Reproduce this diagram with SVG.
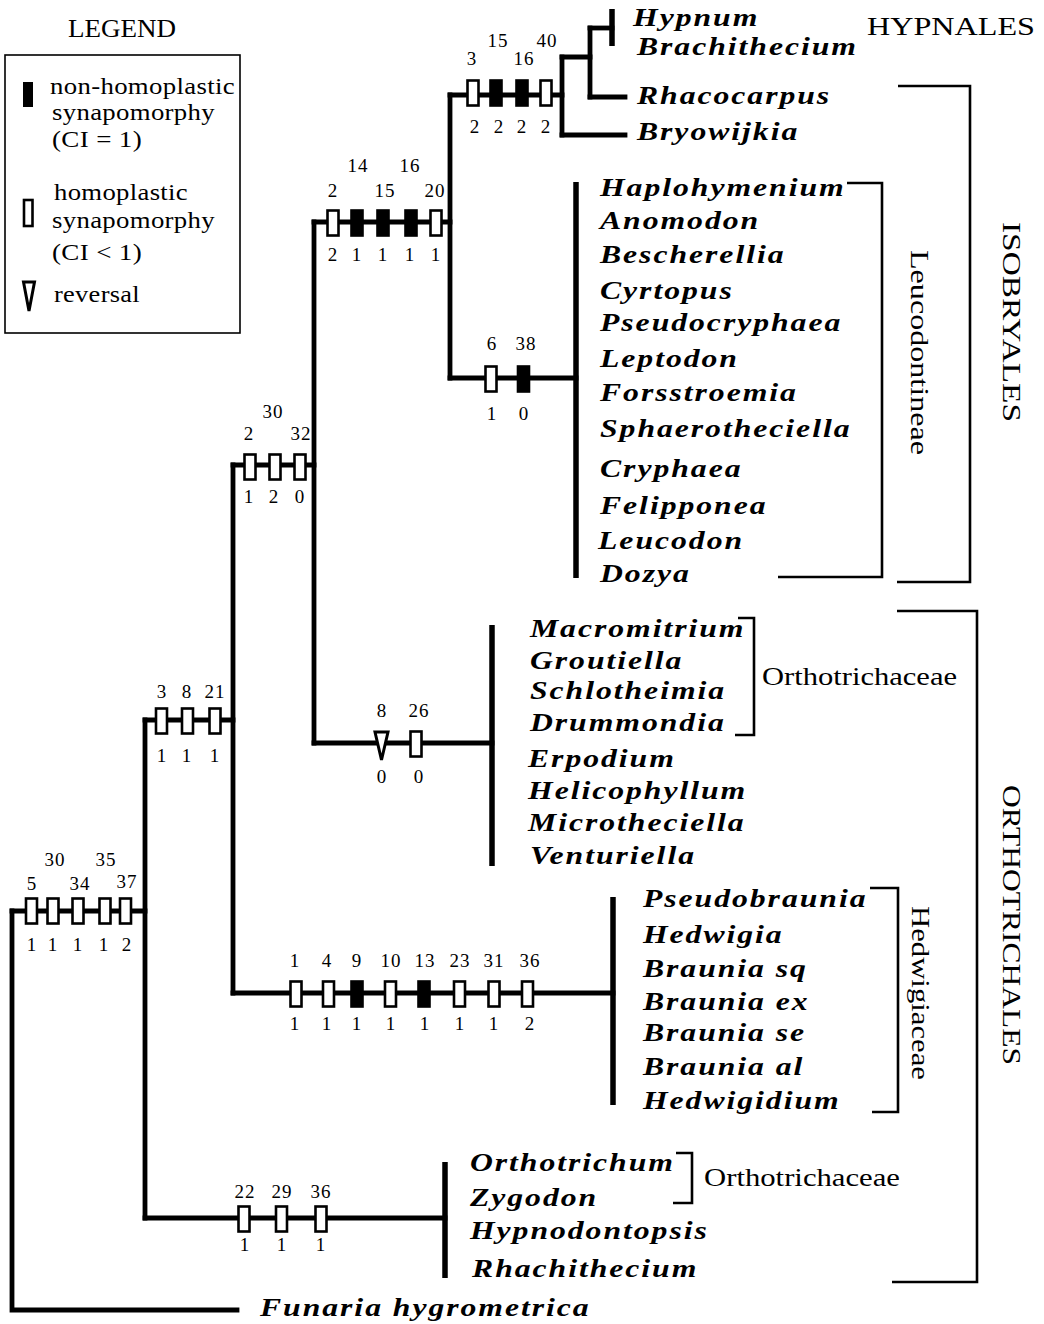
<svg xmlns="http://www.w3.org/2000/svg" width="1044" height="1324" viewBox="0 0 1044 1324">
<style>
.br{fill:none;stroke:#000;stroke-width:4.8;stroke-linecap:square}
.bar{fill:none;stroke:#000;stroke-width:5.5}
.bk{fill:none;stroke:#000;stroke-width:2.6}
.o{fill:#fff;stroke:#000;stroke-width:2.6}
.f{fill:#000;stroke:#000;stroke-width:2.6}
.tx{font-family:"Liberation Serif","Times New Roman",serif;font-style:italic;font-weight:bold;font-size:26px;letter-spacing:1.6px;fill:#000}
.lb{font-family:"Liberation Serif","Times New Roman",serif;font-size:26px;fill:#000}
.lg{font-family:"Liberation Serif","Times New Roman",serif;font-size:24px;letter-spacing:0.3px;fill:#000}
.n{font-family:"Liberation Serif","Times New Roman",serif;font-size:19px;letter-spacing:1px;text-anchor:middle;fill:#000}
</style>
<defs>
<rect id="ro" class="o" x="-5.5" y="-12.5" width="11" height="25"/>
<rect id="rf" class="f" x="-5.5" y="-12.5" width="11" height="25"/>
</defs>
<g id="connectors">
<path class="br" d="M12,911 V1310 H237"/>
<path class="br" d="M12,911 H145"/>
<path class="br" d="M145,720 V1218"/>
<path class="br" d="M145,720 H233"/>
<path class="br" d="M145,1218 H445"/>
<path class="br" d="M233,465 V993"/>
<path class="br" d="M233,465 H314"/>
<path class="br" d="M233,993 H613"/>
<path class="br" d="M314,222 V743"/>
<path class="br" d="M314,222 H450"/>
<path class="br" d="M314,743 H492"/>
<path class="br" d="M450,95 V378"/>
<path class="br" d="M450,95 H562"/>
<path class="br" d="M450,378 H576"/>
<path class="br" d="M562,57 V135"/>
<path class="br" d="M562,57 H590"/>
<path class="br" d="M562,135 H625"/>
<path class="br" d="M590,28 V97"/>
<path class="br" d="M590,97 H625"/>
<path class="br" d="M590,28 H612"/>
</g>
<g id="leaf-bars">
<path class="bar" d="M612,9 V46"/>
<path class="bar" d="M576,182 V578"/>
<path class="bar" d="M492,625 V866"/>
<path class="bar" d="M613,897 V1105"/>
<path class="bar" d="M445,1162 V1278"/>
</g>
<g id="brackets">
<path class="bk" d="M898,86 H970 V582 H897"/>
<path class="bk" d="M847,183 H882 V577 H778"/>
<path class="bk" d="M738,618 H754 V735 H735"/>
<path class="bk" d="M897,611 H977 V1282 H892"/>
<path class="bk" d="M870,888 H898 V1112 H872"/>
<path class="bk" d="M676,1153 H692 V1203 H673"/>
</g>
<g id="legend">
<text class="lb" x="68" y="37" font-size="24" textLength="108" lengthAdjust="spacingAndGlyphs">LEGEND</text>
<rect x="5" y="55" width="235" height="278" fill="none" stroke="#000" stroke-width="1.6"/>
<rect x="23" y="82" width="10" height="25" fill="#000"/>
<text class="lg" x="50" y="94" textLength="185" lengthAdjust="spacingAndGlyphs">non-homoplastic</text>
<text class="lg" x="52" y="120" textLength="163" lengthAdjust="spacingAndGlyphs">synapomorphy</text>
<text class="lg" x="52" y="147" textLength="90" lengthAdjust="spacingAndGlyphs">(CI = 1)</text>
<rect x="24" y="200" width="8.5" height="26" fill="#fff" stroke="#000" stroke-width="2.6"/>
<text class="lg" x="54" y="200" textLength="134" lengthAdjust="spacingAndGlyphs">homoplastic</text>
<text class="lg" x="52" y="228" textLength="163" lengthAdjust="spacingAndGlyphs">synapomorphy</text>
<text class="lg" x="52" y="260" textLength="90" lengthAdjust="spacingAndGlyphs">(CI &lt; 1)</text>
<path d="M23.5,282 H34.5 L29,311 Z" fill="#fff" stroke="#000" stroke-width="3" stroke-linejoin="miter"/>
<text class="lg" x="54" y="302" textLength="86" lengthAdjust="spacingAndGlyphs">reversal</text>
</g>
<g id="node-root">
<use href="#ro" x="31.5" y="911"/><use href="#ro" x="53" y="911"/><use href="#ro" x="78" y="911"/><use href="#ro" x="105" y="911"/><use href="#ro" x="125.5" y="911"/>
<text class="n" x="32" y="890">5</text><text class="n" x="55" y="866">30</text><text class="n" x="80" y="890">34</text><text class="n" x="106" y="866">35</text><text class="n" x="127" y="888">37</text>
<text class="n" x="32" y="951">1</text><text class="n" x="53" y="951">1</text><text class="n" x="78" y="951">1</text><text class="n" x="104" y="951">1</text><text class="n" x="127" y="951">2</text>
</g>
<g id="node-a">
<use href="#ro" x="161.5" y="721"/><use href="#ro" x="187.5" y="721"/><use href="#ro" x="215" y="721"/>
<text class="n" x="162" y="698">3</text><text class="n" x="187" y="698">8</text><text class="n" x="215" y="698">21</text>
<text class="n" x="162" y="762">1</text><text class="n" x="187" y="762">1</text><text class="n" x="215" y="762">1</text>
</g>
<g id="node-b">
<use href="#ro" x="244" y="1219"/><use href="#ro" x="281.5" y="1219"/><use href="#ro" x="321" y="1219"/>
<text class="n" x="245" y="1198">22</text><text class="n" x="282" y="1198">29</text><text class="n" x="321" y="1198">36</text>
<text class="n" x="245" y="1251">1</text><text class="n" x="282" y="1251">1</text><text class="n" x="321" y="1251">1</text>
</g>
<g id="node-c">
<use href="#ro" x="250" y="467"/><use href="#ro" x="275" y="467"/><use href="#ro" x="300" y="467"/>
<text class="n" x="249" y="440">2</text><text class="n" x="273" y="418">30</text><text class="n" x="301" y="440">32</text>
<text class="n" x="249" y="503">1</text><text class="n" x="274" y="503">2</text><text class="n" x="300" y="503">0</text>
</g>
<g id="node-d">
<use href="#ro" x="296" y="994"/><use href="#ro" x="328.5" y="994"/><use href="#rf" x="357" y="994"/><use href="#ro" x="390.5" y="994"/><use href="#rf" x="424" y="994"/><use href="#ro" x="459.5" y="994"/><use href="#ro" x="494" y="994"/><use href="#ro" x="527.5" y="994"/>
<text class="n" x="295" y="967">1</text><text class="n" x="327" y="967">4</text><text class="n" x="357" y="967">9</text><text class="n" x="391" y="967">10</text><text class="n" x="425" y="967">13</text><text class="n" x="460" y="967">23</text><text class="n" x="494" y="967">31</text><text class="n" x="530" y="967">36</text>
<text class="n" x="295" y="1030">1</text><text class="n" x="327" y="1030">1</text><text class="n" x="357" y="1030">1</text><text class="n" x="391" y="1030">1</text><text class="n" x="425" y="1030">1</text><text class="n" x="460" y="1030">1</text><text class="n" x="494" y="1030">1</text><text class="n" x="530" y="1030">2</text>
</g>
<g id="node-e">
<path d="M375,732 H388 L381.5,760 Z" fill="#fff" stroke="#000" stroke-width="3"/>
<use href="#ro" x="416" y="744"/>
<text class="n" x="382" y="717">8</text><text class="n" x="419" y="717">26</text>
<text class="n" x="382" y="783">0</text><text class="n" x="419" y="783">0</text>
</g>
<g id="node-f">
<use href="#ro" x="333" y="223"/><use href="#rf" x="357" y="223"/><use href="#rf" x="383" y="223"/><use href="#rf" x="411" y="223"/><use href="#ro" x="436" y="223"/>
<text class="n" x="333" y="197">2</text><text class="n" x="358" y="172">14</text><text class="n" x="385" y="197">15</text><text class="n" x="410" y="172">16</text><text class="n" x="435" y="197">20</text>
<text class="n" x="333" y="261">2</text><text class="n" x="357" y="261">1</text><text class="n" x="383" y="261">1</text><text class="n" x="410" y="261">1</text><text class="n" x="436" y="261">1</text>
</g>
<g id="node-g">
<use href="#ro" x="491" y="379"/><use href="#rf" x="523.5" y="379"/>
<text class="n" x="492" y="350">6</text><text class="n" x="526" y="350">38</text>
<text class="n" x="492" y="420">1</text><text class="n" x="524" y="420">0</text>
</g>
<g id="node-h">
<use href="#ro" x="473" y="93"/><use href="#rf" x="496" y="93"/><use href="#rf" x="522" y="93"/><use href="#ro" x="546" y="93"/>
<text class="n" x="472" y="65">3</text><text class="n" x="498" y="47">15</text><text class="n" x="524" y="65">16</text><text class="n" x="547" y="47">40</text>
<text class="n" x="475" y="133">2</text><text class="n" x="499" y="133">2</text><text class="n" x="522" y="133">2</text><text class="n" x="546" y="133">2</text>
</g>
<g id="taxa" transform="scale(1.22,1)">
<text class="tx" x="518.9" y="26">Hypnum</text>
<text class="tx" x="522.1" y="55">Brachithecium</text>
<text class="tx" x="522.1" y="104">Rhacocarpus</text>
<text class="tx" x="522.1" y="140">Bryowijkia</text>
<text class="tx" x="491.8" y="196">Haplohymenium</text>
<text class="tx" x="491.8" y="229">Anomodon</text>
<text class="tx" x="491.8" y="263">Bescherellia</text>
<text class="tx" x="491.8" y="299">Cyrtopus</text>
<text class="tx" x="491.8" y="331">Pseudocryphaea</text>
<text class="tx" x="491.8" y="367">Leptodon</text>
<text class="tx" x="491.8" y="401">Forsstroemia</text>
<text class="tx" x="491.8" y="437">Sphaerotheciella</text>
<text class="tx" x="491.8" y="477">Cryphaea</text>
<text class="tx" x="491.8" y="514">Felipponea</text>
<text class="tx" x="490.2" y="549">Leucodon</text>
<text class="tx" x="491.8" y="582">Dozya</text>
<text class="tx" x="434.4" y="637">Macromitrium</text>
<text class="tx" x="434.4" y="669">Groutiella</text>
<text class="tx" x="434.4" y="699">Schlotheimia</text>
<text class="tx" x="434.4" y="731">Drummondia</text>
<text class="tx" x="432.8" y="767">Erpodium</text>
<text class="tx" x="432.8" y="799">Helicophyllum</text>
<text class="tx" x="432.8" y="831">Microtheciella</text>
<text class="tx" x="434.4" y="864">Venturiella</text>
<text class="tx" x="527" y="907">Pseudobraunia</text>
<text class="tx" x="527" y="943">Hedwigia</text>
<text class="tx" x="527" y="977">Braunia sq</text>
<text class="tx" x="527" y="1010">Braunia ex</text>
<text class="tx" x="527" y="1041">Braunia se</text>
<text class="tx" x="527" y="1075">Braunia al</text>
<text class="tx" x="527" y="1109">Hedwigidium</text>
<text class="tx" x="385.2" y="1171">Orthotrichum</text>
<text class="tx" x="385.2" y="1206">Zygodon</text>
<text class="tx" x="385.2" y="1239">Hypnodontopsis</text>
<text class="tx" x="386.9" y="1277">Rhachithecium</text>
<text class="tx" x="213.1" y="1316">Funaria hygrometrica</text>
</g>
<g id="group-labels">
<text class="lb" x="867" y="35" textLength="168" lengthAdjust="spacingAndGlyphs">HYPNALES</text>
<text class="lb" x="762" y="685" textLength="195" lengthAdjust="spacingAndGlyphs">Orthotrichaceae</text>
<text class="lb" x="704" y="1186" textLength="196" lengthAdjust="spacingAndGlyphs">Orthotrichaceae</text>
<text class="lb" transform="translate(1003,222) rotate(90)" textLength="200" lengthAdjust="spacingAndGlyphs">ISOBRYALES</text>
<text class="lb" font-size="23" transform="translate(911,250) rotate(90)" textLength="205" lengthAdjust="spacingAndGlyphs">Leucodontineae</text>
<text class="lb" transform="translate(1003,785) rotate(90)" textLength="280" lengthAdjust="spacingAndGlyphs">ORTHOTRICHALES</text>
<text class="lb" font-size="23" transform="translate(912,906) rotate(90)" textLength="174" lengthAdjust="spacingAndGlyphs">Hedwigiaceae</text>
</g>
</svg>
